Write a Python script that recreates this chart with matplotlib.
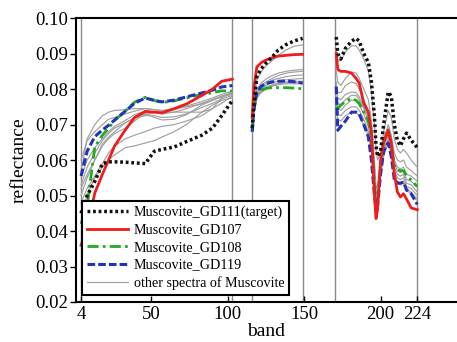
import matplotlib
matplotlib.use("Agg")
import matplotlib.pyplot as plt
from matplotlib.ticker import FormatStrFormatter

plt.rcParams['font.family'] = ['Liberation Serif', 'DejaVu Serif']

# band grids of the three spectral segments
bands1 = [4, 8, 13, 18, 22, 26, 33, 39, 46, 52, 57, 65, 73, 83, 90, 96, 103]
bands2 = [116, 117, 119, 122, 125, 129, 133, 138, 143, 149]
bands3 = [171, 172, 174, 177, 181, 184, 186, 189, 192, 194, 196, 197, 198,
          200, 202, 205, 207, 209, 211, 213, 215, 217, 220, 224]

# Muscovite_GD111 (target)
gd111_1 = [0.045, 0.050, 0.054, 0.059, 0.0595, 0.0595, 0.0594, 0.0592, 0.059, 0.0625,
           0.063, 0.0637, 0.0652, 0.067, 0.069, 0.0725, 0.0768]
gd111_2 = [0.069, 0.075, 0.0835, 0.0858, 0.0873, 0.089, 0.091, 0.0925, 0.0935, 0.0943]
gd111_3 = [0.0947, 0.090, 0.0885, 0.0915, 0.0935, 0.0943, 0.0935, 0.090, 0.0875, 0.082,
           0.0722, 0.064, 0.061, 0.0625, 0.070, 0.0792, 0.078, 0.070, 0.0655, 0.064,
           0.066, 0.0676, 0.0656, 0.0635]

# Muscovite_GD107
gd107_1 = [0.036, 0.041, 0.0507, 0.056, 0.060, 0.064, 0.0685, 0.072, 0.0737, 0.0735,
           0.0733, 0.0745, 0.0758, 0.0782, 0.080, 0.0822, 0.0828]
gd107_2 = [0.072, 0.080, 0.0862, 0.0875, 0.0882, 0.0888, 0.0893, 0.0895, 0.0897, 0.0898]
gd107_3 = [0.090, 0.0855, 0.085, 0.085, 0.0845, 0.083, 0.0817, 0.076, 0.0735, 0.068,
           0.050, 0.0435, 0.046, 0.060, 0.065, 0.0684, 0.0648, 0.056, 0.051, 0.0496,
           0.0505, 0.049, 0.0465, 0.046]

# Muscovite_GD108
gd108_1 = [0.042, 0.047, 0.0637, 0.067, 0.069, 0.0712, 0.0738, 0.0763, 0.0777, 0.0768,
           0.0762, 0.0767, 0.0775, 0.0785, 0.079, 0.0795, 0.0795]
gd108_2 = [0.068, 0.074, 0.079, 0.0797, 0.0802, 0.0804, 0.0804, 0.0804, 0.0803, 0.0801]
gd108_3 = [0.075, 0.0745, 0.0755, 0.0765, 0.0774, 0.0768, 0.076, 0.0735, 0.071, 0.066,
           0.054, 0.048, 0.0485, 0.058, 0.066, 0.068, 0.064, 0.0585, 0.0572, 0.057,
           0.057, 0.0555, 0.0544, 0.0525]

# Muscovite_GD119
gd119_1 = [0.0555, 0.0625, 0.0666, 0.0685, 0.0698, 0.0713, 0.0738, 0.076, 0.0775, 0.0768,
           0.0764, 0.0769, 0.0778, 0.0789, 0.0797, 0.0806, 0.081]
gd119_2 = [0.068, 0.074, 0.079, 0.0808, 0.0816, 0.082, 0.0822, 0.0823, 0.0821, 0.0817]
gd119_3 = [0.0807, 0.0684, 0.0695, 0.071, 0.0735, 0.0735, 0.073, 0.070, 0.0665, 0.060,
           0.050, 0.0465, 0.047, 0.056, 0.0625, 0.0648, 0.061, 0.0544, 0.0535, 0.0535,
           0.0538, 0.0515, 0.0505, 0.0475]

# other spectra of Muscovite
others_1 = [
    [0.057, 0.066, 0.070, 0.0725, 0.0735, 0.074, 0.0742, 0.0745, 0.0745, 0.0742, 0.074, 0.0745, 0.075, 0.0758, 0.077, 0.078, 0.079],
    [0.060, 0.0655, 0.068, 0.070, 0.0715, 0.072, 0.073, 0.0738, 0.0745, 0.0742, 0.0738, 0.0742, 0.0752, 0.0765, 0.0775, 0.0785, 0.0795],
    [0.055, 0.060, 0.0635, 0.066, 0.068, 0.0695, 0.0712, 0.0728, 0.0738, 0.0735, 0.073, 0.0735, 0.0745, 0.076, 0.077, 0.078, 0.0788],
    [0.052, 0.056, 0.060, 0.064, 0.066, 0.0675, 0.069, 0.071, 0.0732, 0.072, 0.0713, 0.0715, 0.0728, 0.0755, 0.0768, 0.0778, 0.0785],
    [0.050, 0.055, 0.060, 0.0645, 0.0665, 0.068, 0.0705, 0.072, 0.0728, 0.0733, 0.0735, 0.0735, 0.0735, 0.0735, 0.0745, 0.0775, 0.0795],
    [0.045, 0.050, 0.055, 0.058, 0.060, 0.0615, 0.0635, 0.064, 0.0648, 0.0655, 0.0665, 0.068, 0.070, 0.0735, 0.0755, 0.0768, 0.0775],
    [0.048, 0.052, 0.0555, 0.059, 0.062, 0.064, 0.066, 0.067, 0.068, 0.069, 0.0695, 0.070, 0.071, 0.0725, 0.0745, 0.076, 0.078],
    [0.053, 0.058, 0.062, 0.0655, 0.0675, 0.069, 0.0705, 0.0718, 0.0725, 0.0725, 0.072, 0.0722, 0.073, 0.0748, 0.076, 0.0772, 0.0782],
]
others_2 = [
    [0.070, 0.076, 0.0825, 0.085, 0.0865, 0.088, 0.0895, 0.091, 0.092, 0.0925],
    [0.070, 0.075, 0.080, 0.0818, 0.0828, 0.0838, 0.0845, 0.085, 0.0853, 0.0855],
    [0.070, 0.075, 0.0795, 0.0812, 0.082, 0.083, 0.0838, 0.0845, 0.0848, 0.085],
    [0.069, 0.074, 0.079, 0.0805, 0.0815, 0.0825, 0.083, 0.0835, 0.0838, 0.084],
    [0.069, 0.074, 0.0785, 0.080, 0.081, 0.0818, 0.0822, 0.0826, 0.0828, 0.083],
    [0.069, 0.0735, 0.078, 0.0795, 0.0805, 0.0812, 0.0816, 0.082, 0.0822, 0.0822],
    [0.068, 0.073, 0.0775, 0.079, 0.080, 0.0808, 0.0812, 0.0815, 0.0815, 0.0815],
    [0.068, 0.0735, 0.078, 0.0795, 0.0803, 0.081, 0.0815, 0.0818, 0.0818, 0.0818],
]
others_3 = [
    [0.091, 0.088, 0.088, 0.0905, 0.0922, 0.0922, 0.091, 0.0885, 0.085, 0.079, 0.070, 0.063, 0.060, 0.062, 0.068, 0.074, 0.072, 0.066, 0.063, 0.062, 0.063, 0.062, 0.060, 0.058],
    [0.085, 0.082, 0.081, 0.083, 0.0848, 0.0845, 0.083, 0.080, 0.077, 0.071, 0.060, 0.052, 0.053, 0.060, 0.066, 0.070, 0.067, 0.062, 0.060, 0.0595, 0.060, 0.058, 0.057, 0.0555],
    [0.082, 0.079, 0.079, 0.081, 0.082, 0.0815, 0.080, 0.077, 0.074, 0.068, 0.058, 0.050, 0.051, 0.059, 0.065, 0.069, 0.066, 0.060, 0.058, 0.0575, 0.058, 0.056, 0.0555, 0.054],
    [0.080, 0.0775, 0.077, 0.0785, 0.0792, 0.079, 0.0778, 0.075, 0.072, 0.066, 0.056, 0.049, 0.050, 0.058, 0.064, 0.068, 0.065, 0.059, 0.057, 0.0565, 0.057, 0.0545, 0.054, 0.0525],
    [0.078, 0.076, 0.0755, 0.077, 0.0783, 0.0782, 0.077, 0.0745, 0.071, 0.065, 0.055, 0.0485, 0.049, 0.057, 0.063, 0.067, 0.064, 0.058, 0.056, 0.0555, 0.056, 0.0535, 0.053, 0.051],
    [0.077, 0.0745, 0.074, 0.0755, 0.0769, 0.0768, 0.0755, 0.073, 0.0695, 0.064, 0.054, 0.048, 0.0485, 0.0565, 0.0625, 0.066, 0.063, 0.057, 0.055, 0.0545, 0.055, 0.0525, 0.052, 0.050],
    [0.076, 0.073, 0.0725, 0.074, 0.075, 0.075, 0.074, 0.0715, 0.068, 0.063, 0.0535, 0.0475, 0.048, 0.056, 0.062, 0.0655, 0.062, 0.056, 0.054, 0.0535, 0.054, 0.052, 0.051, 0.049],
    [0.074, 0.0715, 0.071, 0.0725, 0.0735, 0.0735, 0.0725, 0.070, 0.067, 0.062, 0.053, 0.047, 0.0475, 0.0555, 0.061, 0.065, 0.0615, 0.0555, 0.0535, 0.053, 0.0535, 0.0515, 0.0505, 0.0485],
]

segment_lines = [4, 103, 116, 149, 170, 224]
xtick_vals = [4, 50, 100, 150, 200, 224]
ytick_vals = [0.02, 0.03, 0.04, 0.05, 0.06, 0.07, 0.08, 0.09, 0.10]

fig = plt.figure(figsize=(4.57, 3.42), dpi=100)
ax = fig.add_axes([0.1663, 0.117, 0.8337, 0.830])

for xv in segment_lines:
    ax.axvline(xv, color='#8a8a8a', lw=1.0, zorder=1)

bands = [bands1, bands2, bands3]
gray_handle = None
for seg_b, seg_curves in zip(bands, [others_1, others_2, others_3]):
    for curve in seg_curves:
        ln, = ax.plot(seg_b, curve, color='#a0a0a0', lw=0.85, zorder=2)
        if gray_handle is None:
            gray_handle = ln

styles = [
    ('Muscovite_GD108', [gd108_1, gd108_2, gd108_3], '#22aa22', (0, (4, 1.5, 1, 1.5)), 2.0, 3),
    ('Muscovite_GD119', [gd119_1, gd119_2, gd119_3], '#2233bb', (0, (2.5, 1)), 2.2, 4),
    ('Muscovite_GD107', [gd107_1, gd107_2, gd107_3], '#ee1c1c', '-', 2.0, 5),
    ('Muscovite_GD111(target)', [gd111_1, gd111_2, gd111_3], '#111111', (0, (0.8, 0.8)), 2.5, 6),
]
handles = {}
for name, segs, color, ls, lw, z in styles:
    for k, (seg_b, vals) in enumerate(zip(bands, segs)):
        ln, = ax.plot(seg_b, vals, color=color, ls=ls, lw=lw, zorder=z)
        if k == 0:
            handles[name] = ln

order = ['Muscovite_GD111(target)', 'Muscovite_GD107', 'Muscovite_GD108', 'Muscovite_GD119']
leg = ax.legend([handles[n] for n in order] + [gray_handle],
                order + ['other spectra of Muscovite'],
                loc='lower left', bbox_to_anchor=(0.016, 0.025), borderaxespad=0,
                fontsize=10.2, frameon=True, fancybox=False, framealpha=1,
                edgecolor='black', handlelength=2.9, handletextpad=0.4,
                labelspacing=0.32, borderpad=0.35)
leg.get_frame().set_linewidth(1.5)
leg.set_zorder(10)

ax.set_xlim(0.7, 250)
ax.set_ylim(0.02, 0.10)
ax.set_xticks(xtick_vals)
ax.set_yticks(ytick_vals)
ax.yaxis.set_major_formatter(FormatStrFormatter('%.2f'))
ax.tick_params(axis='x', direction='in', length=4, width=1, labelsize=13.5, pad=3)
ax.tick_params(axis='y', direction='out', length=4, width=1, labelsize=13.5, pad=2)
ax.spines['right'].set_visible(False)
for s in ['top', 'left', 'bottom']:
    ax.spines[s].set_linewidth(1.5)

ax.set_xlabel('band', fontsize=14, labelpad=0)
ax.set_ylabel('reflectance', fontsize=14, labelpad=5)

fig.savefig('out.png', dpi=100)
